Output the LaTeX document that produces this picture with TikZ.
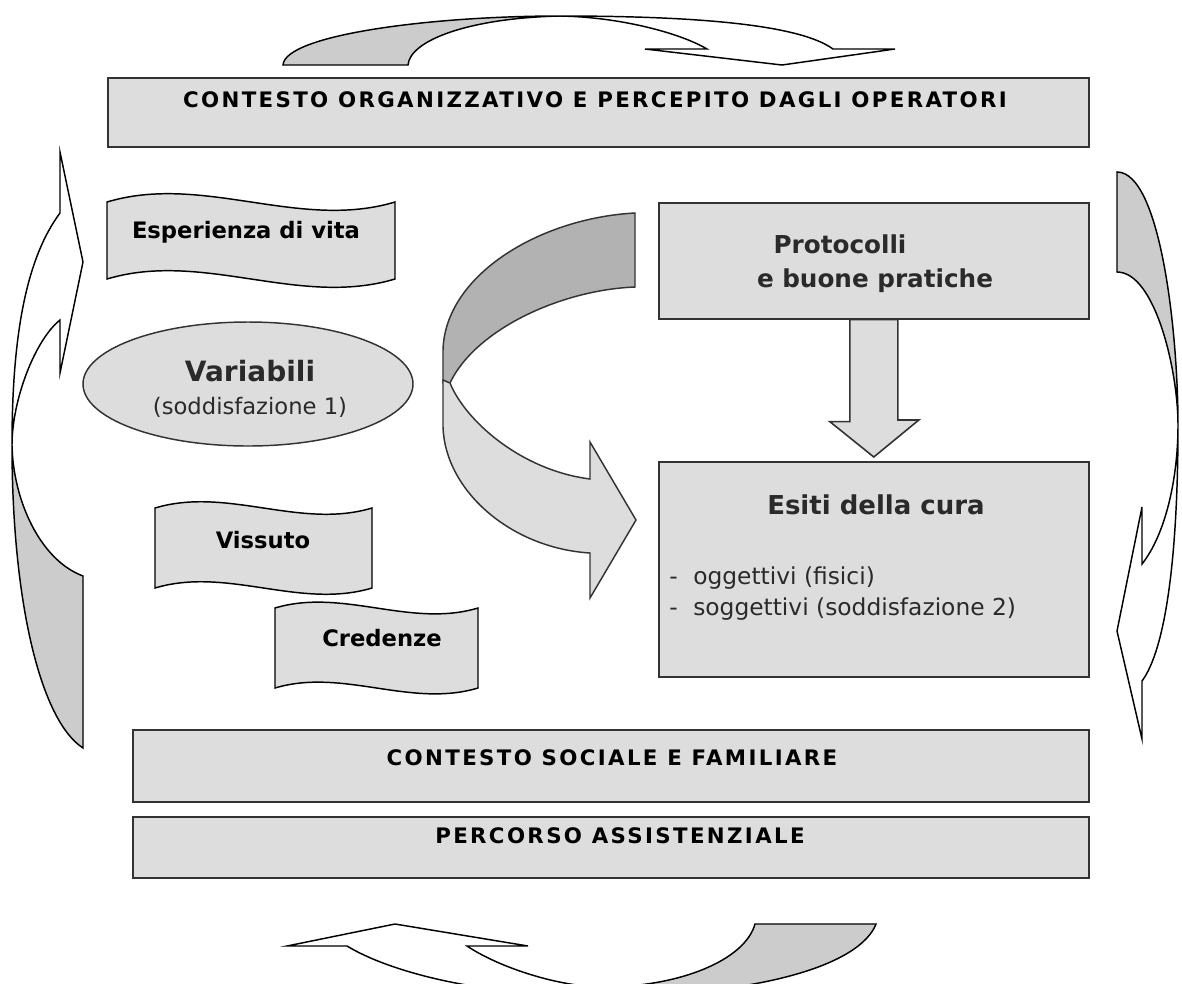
\documentclass[tikz,border=0pt]{standalone}
\usepackage{fontspec}
\usetikzlibrary{shapes.geometric}
\setmainfont{DejaVu Sans}
\newfontfamily\capsfont[LetterSpace=11]{DejaVu Sans}
\definecolor{boxfill}{HTML}{DDDDDD}
\definecolor{tailfill}{HTML}{CCCCCC}
\definecolor{backfill}{HTML}{B2B2B2}
\definecolor{edge}{HTML}{333333}
\definecolor{ink}{HTML}{2A2A2A}
\newcommand\wavepath[4]{%
  (#1,#2) .. controls ({#1+(#3-#1)/3},{#2-0.1*(#3-#1)}) and ({#1+2*(#3-#1)/3},{#2+0.1*(#3-#1)}) .. (#3,#2)
  -- (#3,#4) .. controls ({#1+2*(#3-#1)/3},{#4+0.1*(#3-#1)}) and ({#1+(#3-#1)/3},{#4-0.1*(#3-#1)}) .. (#1,#4) -- cycle}
\begin{document}
\begin{tikzpicture}[x=0.75pt,y=-0.75pt,
  panel/.style={draw=edge, fill=boxfill, line width=1.2pt},
  ribbon/.style={draw=black, line width=1.1pt, line join=miter},
  wavebox/.style={draw=black, fill=boxfill, line width=1.1pt},
  caplabel/.style={font=\capsfont\bfseries\fontsize{16}{18}\selectfont, inner sep=0, text=black},
  headlabel/.style={font=\bfseries\fontsize{18.5}{21}\selectfont, inner sep=0, text=ink},
  wavelabel/.style={font=\bfseries\fontsize{17}{20}\selectfont, inner sep=0, text=black},
  bodylabel/.style={font=\fontsize{17.5}{20}\selectfont, inner sep=0, text=ink, anchor=west}]
\path[use as bounding box] (0,0) rectangle (1182,983);
\clip (0,0) rectangle (1182,983);

% ---------- rectangular panels ----------
\node[panel, anchor=north west, minimum width=735.75pt, minimum height=51.75pt] (topbox) at (107,77) {};
\node[caplabel] (toplabel) at (595,100) {CONTESTO ORGANIZZATIVO E PERCEPITO DAGLI OPERATORI};

\node[panel, anchor=north west, minimum width=322.5pt, minimum height=87pt] (proto) at (658,202) {};
\node[headlabel] (protoA) at (840,244) {Protocolli};
\node[headlabel] (protoB) at (875,281) {e buone pratiche};

\node[panel, anchor=north west, minimum width=322.5pt, minimum height=161.25pt] (esiti) at (658,461) {};
\node[headlabel, font=\bfseries\fontsize{19.5}{22}\selectfont] (esititle) at (876,505) {Esiti della cura};
\node[bodylabel] (bulA) at (669,578) {\makebox[18pt][l]{-}oggettivi (fisici)};
\node[bodylabel] (bulB) at (669,609) {\makebox[18pt][l]{-}soggettivi (soddisfazione 2)};

\node[panel, anchor=north west, minimum width=717pt, minimum height=54pt] (social) at (132,729) {};
\node[caplabel] (sociallabel) at (612,758) {CONTESTO SOCIALE E FAMILIARE};
\node[panel, anchor=north west, minimum width=717pt, minimum height=45.75pt] (percorso) at (132,816) {};
\node[caplabel] (percorsolabel) at (620,836) {PERCORSO ASSISTENZIALE};

% block arrow Protocolli -> Esiti
\draw[panel] ([xshift=-18pt]proto.south) -- ++(0,102) -- ++(-20,0)
  -- ([yshift=3pt]esiti.north) -- ++(45,-37) -- ++(-21,0)
  -- ([xshift=18pt]proto.south) -- cycle;

% ---------- ellipse ----------
\node[draw=edge, fill=boxfill, line width=1.1pt, ellipse, minimum width=247.5pt, minimum height=93pt] (variabili) at (248,384) {};
\node[headlabel, font=\bfseries\fontsize{21}{24}\selectfont] (varA) at (250,371) {Variabili};
\node[font=\fontsize{17}{20}\selectfont, text=ink, inner sep=0] (varB) at (250,407) {(soddisfazione 1)};

% ---------- wave shapes ----------
\draw[wavebox] \wavepath{107}{202}{395}{279};
\node[wavelabel] (esperienza) at (246,232) {Esperienza di vita};
\draw[wavebox] \wavepath{155}{508}{372}{588};
\node[wavelabel] (vissuto) at (263,540) {Vissuto};
\draw[wavebox] \wavepath{275}{608}{478}{688};
\node[wavelabel] (credenze) at (382,638) {Credenze};

% ---------- middle curved arrow ----------
\draw[draw=edge, fill=backfill, line width=1.1pt]
  (450,383) .. controls (475,330) and (560,290) .. (635,287) -- (635,213)
  .. controls (540,218) and (445,275) .. (443,350) -- (443,383) -- cycle;
\draw[draw=edge, fill=boxfill, line width=1.1pt]
  (443,380) -- (443,427) .. controls (445,490) and (510,548) .. (590,553)
  -- (590,598) -- (636,520) -- (590,442) -- (590,479)
  .. controls (520,470) and (465,420) .. (450,383) -- cycle;

% ---------- top arrow ----------
\draw[ribbon, fill=tailfill] (283,65) .. controls (285,35) and (430,16) .. (560,16)
  .. controls (470,18) and (410,40) .. (408,65) -- cycle;
\draw[ribbon, fill=white] (560,16) .. controls (700,16) and (800,25) .. (833,49)
  -- (895,49) -- (782,65) -- (645,49) -- (707,49)
  .. controls (680,33) and (620,17) .. (560,16) -- cycle;

% ---------- left arrow ----------
\draw[ribbon, fill=white] (60,213) -- (60,152) -- (83,262) -- (60,373) -- (60,320)
  .. controls (35,340) and (12,400) .. (12,445)
  .. controls (12,340) and (25,260) .. (60,213) -- cycle;
\draw[ribbon, fill=tailfill] (12,445) .. controls (12,600) and (40,720) .. (83,748)
  -- (83,576) .. controls (40,560) and (13,500) .. (12,445) -- cycle;

% ---------- right arrow ----------
\draw[ribbon, fill=tailfill] (1117,172) .. controls (1160,172) and (1178,330) .. (1178,425)
  .. controls (1178,370) and (1155,272) .. (1117,272) -- cycle;
\draw[ribbon, fill=white] (1178,425) .. controls (1178,560) and (1165,650) .. (1142,681)
  -- (1142,739) -- (1117,631) -- (1142,507) -- (1142,564)
  .. controls (1165,535) and (1178,480) .. (1178,425) -- cycle;

% ---------- bottom arrow ----------
\draw[ribbon, fill=white] (347,946) -- (287,946) -- (395,924) -- (528,946) -- (467,946)
  .. controls (500,968) and (560,987) .. (603,987) -- (600,996)
  .. controls (480,996) and (390,972) .. (347,946) -- cycle;
\draw[ribbon, fill=tailfill] (603,987) .. controls (680,987) and (745,960) .. (755,924)
  -- (876,924) .. controls (860,965) and (760,996) .. (600,996) -- cycle;
\end{tikzpicture}
\end{document}
